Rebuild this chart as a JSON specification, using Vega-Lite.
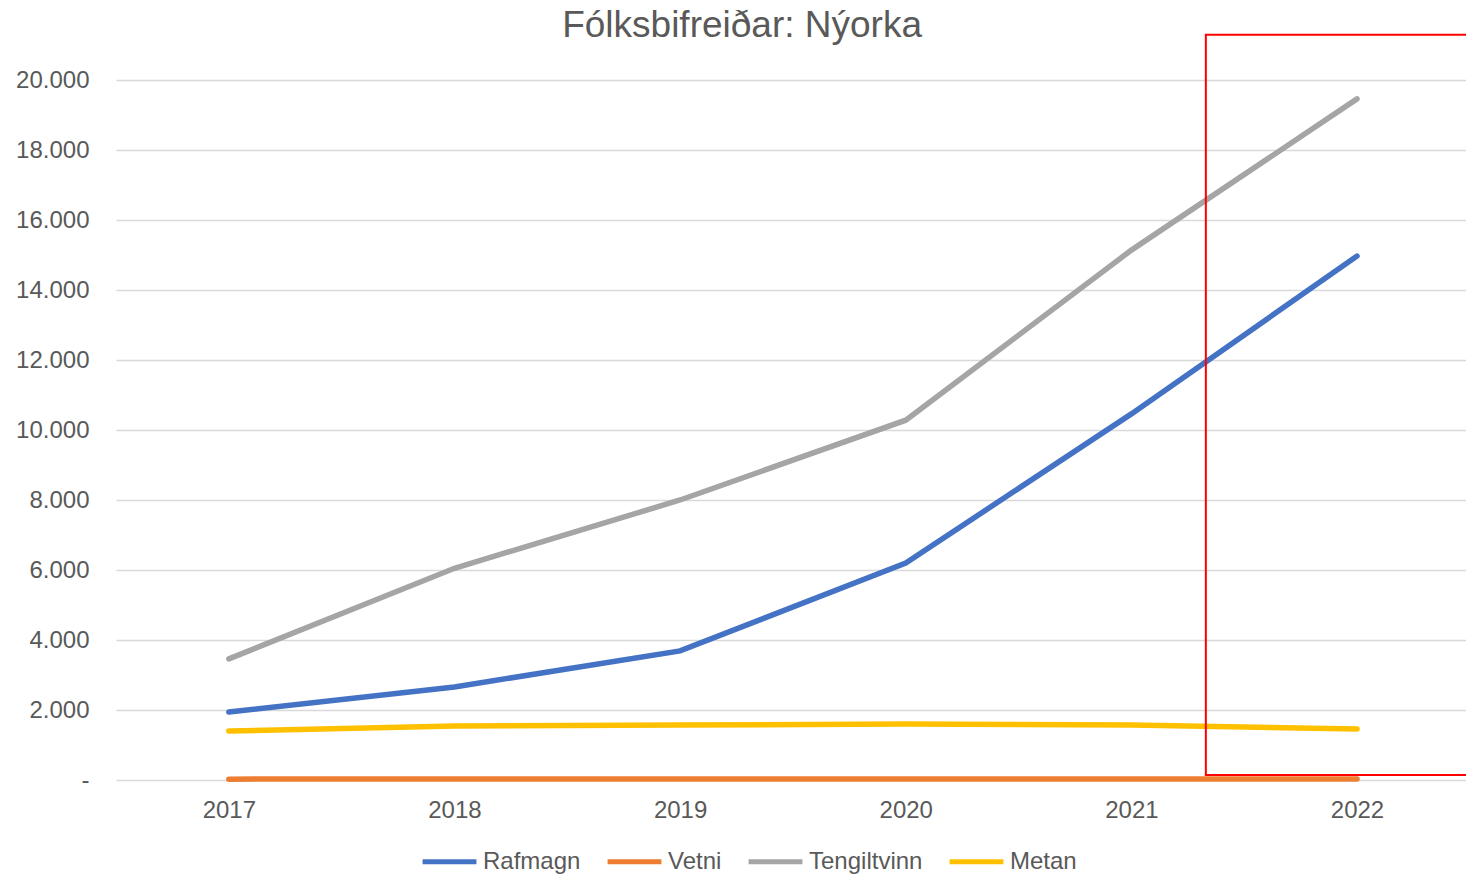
{
  "$schema": "https://vega.github.io/schema/vega-lite/v6.json",
  "autosize": "none",
  "width": 1350,
  "height": 700,
  "padding": {"left": 116, "top": 80, "right": 0, "bottom": 94},
  "background": "white",
  "config": {
    "font": "Liberation Sans",
    "view": {"stroke": null}
  },
  "title": {
    "text": "Fólksbifreiðar: Nýorka",
    "fontSize": 37,
    "fontWeight": "normal",
    "color": "#595959",
    "anchor": "middle",
    "frame": "bounds",
    "offset": -11
  },
  "datasets": {
    "series": [
      {"year": 2017, "type": "Rafmagn", "value": 1940},
      {"year": 2018, "type": "Rafmagn", "value": 2660},
      {"year": 2019, "type": "Rafmagn", "value": 3690},
      {"year": 2020, "type": "Rafmagn", "value": 6200},
      {"year": 2021, "type": "Rafmagn", "value": 10460},
      {"year": 2022, "type": "Rafmagn", "value": 14970},
      {"year": 2017, "type": "Vetni", "value": 25},
      {"year": 2018, "type": "Vetni", "value": 30},
      {"year": 2019, "type": "Vetni", "value": 30},
      {"year": 2020, "type": "Vetni", "value": 30},
      {"year": 2021, "type": "Vetni", "value": 30},
      {"year": 2022, "type": "Vetni", "value": 30},
      {"year": 2017, "type": "Tengiltvinn", "value": 3460},
      {"year": 2018, "type": "Tengiltvinn", "value": 6050},
      {"year": 2019, "type": "Tengiltvinn", "value": 8000},
      {"year": 2020, "type": "Tengiltvinn", "value": 10280},
      {"year": 2021, "type": "Tengiltvinn", "value": 15140},
      {"year": 2022, "type": "Tengiltvinn", "value": 19460},
      {"year": 2017, "type": "Metan", "value": 1400},
      {"year": 2018, "type": "Metan", "value": 1540},
      {"year": 2019, "type": "Metan", "value": 1570},
      {"year": 2020, "type": "Metan", "value": 1600},
      {"year": 2021, "type": "Metan", "value": 1570},
      {"year": 2022, "type": "Metan", "value": 1460}
    ],
    "box": [
      {"x1": 2021.33, "x2": 2022.49, "y1": 140, "y2": 21290}
    ]
  },
  "layer": [
    {
      "data": {"name": "series"},
      "mark": {"type": "line", "strokeWidth": 5.5, "strokeCap": "round"},
      "encoding": {
        "x": {
          "field": "year",
          "type": "quantitative",
          "scale": {"domain": [2016.5, 2022.483], "nice": false, "zero": false},
          "axis": {
            "title": null,
            "values": [2017, 2018, 2019, 2020, 2021, 2022],
            "format": "d",
            "grid": false,
            "domain": false,
            "ticks": false,
            "labelFontSize": 24,
            "labelColor": "#595959",
            "labelPadding": 18
          }
        },
        "y": {
          "field": "value",
          "type": "quantitative",
          "scale": {"domain": [0, 20000], "nice": false},
          "axis": {
            "title": null,
            "values": [0, 2000, 4000, 6000, 8000, 10000, 12000, 14000, 16000, 18000, 20000],
            "labelExpr": "datum.value == 0 ? '-' : replace(format(datum.value, ','), ',', '.')",
            "domain": false,
            "ticks": false,
            "gridColor": "#d9d9d9",
            "gridWidth": 1.5,
            "labelFontSize": 24,
            "labelColor": "#595959",
            "labelPadding": 27
          }
        },
        "color": {
          "field": "type",
          "type": "nominal",
          "scale": {
            "domain": ["Rafmagn", "Vetni", "Tengiltvinn", "Metan"],
            "range": ["#4472C4", "#ED7D31", "#A5A5A5", "#FFC000"]
          },
          "legend": {
            "title": null,
            "orient": "none",
            "legendX": 304,
            "legendY": 752,
            "direction": "horizontal",
            "symbolType": "stroke",
            "symbolStrokeWidth": 5,
            "symbolSize": 2900,
            "labelFontSize": 24,
            "labelColor": "#595959",
            "labelOffset": 4,
            "columnPadding": 16
          }
        }
      }
    },
    {
      "data": {"name": "box"},
      "mark": {"type": "rect", "fill": null, "fillOpacity": 0, "stroke": "#ff0000", "strokeWidth": 2, "clip": false},
      "encoding": {
        "x": {"field": "x1", "type": "quantitative"},
        "x2": {"field": "x2"},
        "y": {"field": "y1", "type": "quantitative"},
        "y2": {"field": "y2"}
      }
    }
  ]
}
